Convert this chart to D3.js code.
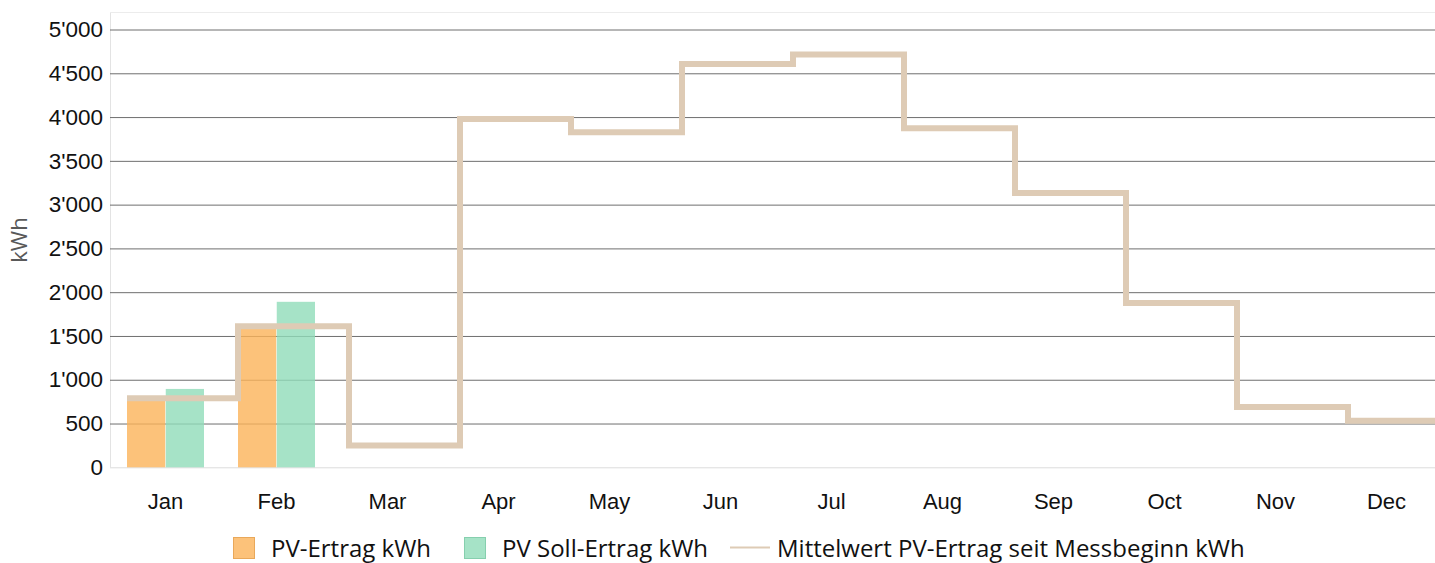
<!DOCTYPE html>
<html><head><meta charset="utf-8">
<script src="https://cdn.jsdelivr.net/npm/d3@7"></script>
<style>
html,body{margin:0;padding:0;background:#fff;}
svg{display:block;font-family:"Open Sans",sans-serif;}
</style></head>
<body>
<svg id="chart" width="1435" height="563"></svg>
<script>
const months = ["Jan","Feb","Mar","Apr","May","Jun","Jul","Aug","Sep","Oct","Nov","Dec"];
const pvErtrag = [790, 1590, null, null, null, null, null, null, null, null, null, null];
const pvSoll = [895, 1890, null, null, null, null, null, null, null, null, null, null];
const mittelwert = [790, 1612, 248, 3978, 3826, 4606, 4716, 3873, 3132, 1877, 690, 532];
const yTicks = [0, 500, 1000, 1500, 2000, 2500, 3000, 3500, 4000, 4500, 5000];
const seriesNames = ["PV-Ertrag kWh", "PV Soll-Ertrag kWh", "Mittelwert PV-Ertrag seit Messbeginn kWh"];

const svg = d3.select("#chart");
const pLeft = 110, pRight = 1442, pTop = 12, pBottom = 467.3;

const x = d3.scaleBand().domain(months).range([pLeft, pRight]).padding(0);
const y = d3.scaleLinear().domain([0, 5200]).range([pBottom, pTop]);
const groupPad = 17;
const x1 = d3.scaleBand().domain([0, 1]).range([groupPad, x.bandwidth() - groupPad]).paddingInner(0.013);

// frame
svg.append("line").attr("x1", pLeft + 0.5).attr("x2", pLeft + 0.5).attr("y1", pTop).attr("y2", pBottom)
  .attr("stroke", "#e3e3e3");
svg.append("line").attr("x1", pLeft).attr("x2", 1435).attr("y1", pTop + 0.5).attr("y2", pTop + 0.5)
  .attr("stroke", "#ececec");

// gridlines
const yAxis = d3.axisLeft(y).tickValues(yTicks)
  .tickFormat(d => d3.format(",")(d).replace(/,/g, "'"))
  .tickSize(-(1435 - pLeft)).tickPadding(7);
const gy = svg.append("g").attr("transform", `translate(${pLeft},0)`).call(yAxis);
gy.select(".domain").remove();
gy.selectAll(".tick line").attr("stroke", d => d === 0 ? "#dcdcdc" : "#6e6e6e").attr("stroke-width", 1);
gy.selectAll(".tick text").attr("font-size", 22.5).attr("fill", "#111").attr("x", -7);

// x axis labels
const xAxis = d3.axisBottom(x).tickSize(0).tickPadding(26);
const gx = svg.append("g").attr("transform", `translate(0,${pBottom})`).call(xAxis);
gx.select(".domain").remove();
gx.selectAll(".tick text").attr("font-size", 22).attr("fill", "#111");

// bars
const barColors = ["rgb(251,179,89)", "rgb(144,220,185)"];
[pvErtrag, pvSoll].forEach((series, si) => {
  svg.append("g").selectAll("rect")
    .data(months.map((m, i) => ({m, v: series[i]})).filter(d => d.v != null))
    .join("rect")
    .attr("x", d => x(d.m) + x1(si))
    .attr("width", x1.bandwidth())
    .attr("y", d => y(d.v))
    .attr("height", d => y(0) - y(d.v))
    .attr("fill", barColors[si])
    .attr("fill-opacity", 0.8);
});

// step line
const pts = months.map((m, i) => [x(m) + groupPad, mittelwert[i]]);
pts.push([x(months[months.length - 1]) + x.bandwidth() + groupPad, mittelwert[mittelwert.length - 1]]);
const line = d3.line().x(d => d[0]).y(d => y(d[1])).curve(d3.curveStepAfter);
svg.append("path").attr("d", line(pts)).attr("fill", "none")
  .attr("stroke", "rgb(222,203,181)").attr("stroke-width", 6).attr("stroke-linejoin", "miter");

// y label
svg.append("text").attr("transform", "translate(27,240) rotate(-90)")
  .attr("text-anchor", "middle").attr("font-size", 22).attr("fill", "#595959").text("kWh");

// legend
const lg = svg.append("g").attr("font-size", 24).attr("fill", "#111");
const legendX = [233, 464, 730];
const textX = [271, 502, 777];
[0, 1].forEach(i => {
  lg.append("rect").attr("x", legendX[i] + 0.5).attr("y", 537.5).attr("width", 21).attr("height", 21)
    .attr("fill", barColors[i]).attr("fill-opacity", 0.8)
    .attr("stroke", i === 0 ? "#e9a85a" : "#86cfae").attr("stroke-width", 1);
});
lg.append("line").attr("x1", legendX[2]).attr("x2", legendX[2] + 40).attr("y1", 547.5).attr("y2", 547.5)
  .attr("stroke", "rgb(222,203,181)").attr("stroke-width", 2);
seriesNames.forEach((n, i) => {
  lg.append("text").attr("x", textX[i]).attr("y", 557).text(n);
});
</script>
</body></html>
